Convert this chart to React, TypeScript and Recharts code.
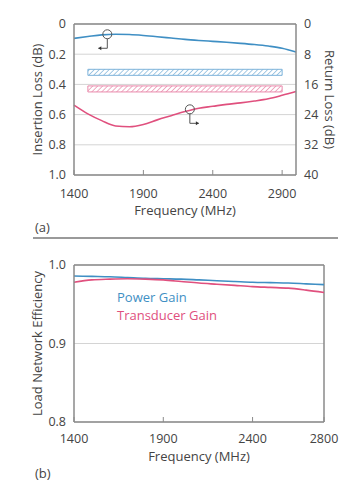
import React from "react";
import {
  LineChart,
  Line,
  XAxis,
  YAxis,
  CartesianGrid,
  ReferenceArea,
  ReferenceLine,
  ReferenceDot,
} from "recharts";

// ---- chart (a) data ----
const freqA = [1400, 1500, 1600, 1700, 1800, 1900, 2000, 2100, 2200, 2300, 2400, 2500, 2600, 2700, 2800, 2900, 3000];
const insertionLoss = [0.095, 0.083, 0.072, 0.068, 0.07, 0.076, 0.084, 0.093, 0.102, 0.109, 0.115, 0.121, 0.128, 0.136, 0.146, 0.16, 0.186];
const returnLoss = [21.5, 23.8, 25.6, 27.0, 27.2, 26.6, 25.4, 24.3, 23.2, 22.3, 21.8, 21.3, 20.9, 20.4, 19.8, 18.9, 17.9];
const ticksA = [1400, 1900, 2400, 2900];
const ilTicks = [0, 0.2, 0.4, 0.6, 0.8, 1.0];
const rlTicks = [0, 8, 16, 24, 32, 40];
const bandFreq = [1500, 2900];
const bandBlue = [0.3, 0.34];
const bandRed = [0.41, 0.45];

// ---- chart (b) data ----
const freqB = [1400, 1500, 1600, 1700, 1800, 1900, 2000, 2100, 2200, 2300, 2400, 2500, 2600, 2700, 2800];
const powerGain = [0.986, 0.9855, 0.985, 0.984, 0.983, 0.9825, 0.982, 0.981, 0.98, 0.979, 0.978, 0.9775, 0.977, 0.976, 0.975];
const transducerGain = [0.978, 0.981, 0.982, 0.9825, 0.982, 0.981, 0.979, 0.977, 0.9755, 0.974, 0.9725, 0.9715, 0.9705, 0.968, 0.965];
const ticksB = [1400, 1900, 2400, 2800];
const effTicks = [0.8, 0.9, 1.0];

const BLUE = "#3f8fc4";
const RED = "#e0507e";
const AXIS = "#8a8a8a";
const TEXT = "#444";
const FONT = "'Open Sans', sans-serif";

const dataA = freqA.map((f, i) => ({ freq: f, il: insertionLoss[i], rl: returnLoss[i] }));
const dataB = freqB.map((f, i) => ({ freq: f, pg: powerGain[i], tg: transducerGain[i] }));

const tickStyle = { fill: TEXT, fontSize: 12.5, fontFamily: FONT };
const titleStyle = { fill: TEXT, fontSize: 13, fontFamily: FONT, textAnchor: "middle" as const };

// circle marker with an elbow arrow pointing to its axis
function Marker({ cx, cy, dir }: { cx?: number; cy?: number; dir: "left" | "right" }) {
  if (cx == null || cy == null) return null;
  const r = 4.5;
  const bend = cy + 14;
  const end = dir === "left" ? cx - 9 : cx + 9;
  const head = dir === "left" ? end + 3 : end - 3;
  return (
    <g>
      <circle cx={cx} cy={cy} r={r} fill="none" stroke="#555" strokeWidth={1} />
      <path d={`M${cx},${cy + r} L${cx},${bend} L${end},${bend}`} fill="none" stroke="#555" strokeWidth={1} />
      <path d={`M${end},${bend} L${head},${bend - 2} L${head},${bend + 2} Z`} fill="#333" />
    </g>
  );
}

export default function App() {
  return (
    <div style={{ position: "absolute", left: 0, top: 0, width: 350, height: 491, background: "#fff" }}>
      {/* (a) insertion / return loss */}
      <div style={{ position: "absolute", left: 0, top: 0 }}>
        <LineChart width={350} height={235} data={dataA} margin={{ top: 24, right: 0, bottom: 0, left: 0 }}>
          <defs>
            <pattern id="hatchBlue" width="3.5" height="3.5" patternUnits="userSpaceOnUse" patternTransform="rotate(45)">
              <line x1="0" y1="0" x2="0" y2="3.5" stroke="#7db3da" strokeWidth={1.4} />
            </pattern>
            <pattern id="hatchRed" width="3.5" height="3.5" patternUnits="userSpaceOnUse" patternTransform="rotate(45)">
              <line x1="0" y1="0" x2="0" y2="3.5" stroke="#e98aab" strokeWidth={1.4} />
            </pattern>
          </defs>
          <CartesianGrid yAxisId="il" vertical={false} stroke="#d4d4d4" />
          <XAxis
            type="number"
            dataKey="freq"
            domain={[1400, 3000]}
            ticks={ticksA}
            height={60}
            tick={tickStyle}
            tickSize={-5}
            tickMargin={19}
            tickLine={{ stroke: AXIS }}
            axisLine={{ stroke: AXIS, strokeWidth: 1.5 }}
            label={{ value: "Frequency (MHz)", position: "insideBottom", offset: 20, style: titleStyle }}
          />
          <YAxis
            yAxisId="il"
            domain={[0, 1]}
            reversed
            ticks={ilTicks}
            width={74}
            tick={tickStyle}
            tickLine={false}
            tickFormatter={(v: number) => (v === 0 ? "0" : v.toFixed(1))}
            axisLine={{ stroke: AXIS, strokeWidth: 1.5 }}
            label={{ value: "Insertion Loss (dB)", angle: -90, position: "insideLeft", offset: 37, style: titleStyle }}
          />
          <YAxis
            yAxisId="rl"
            orientation="right"
            domain={[0, 40]}
            reversed
            ticks={rlTicks}
            width={54}
            tick={tickStyle}
            tickLine={false}
            axisLine={{ stroke: AXIS, strokeWidth: 1.5 }}
            label={{ value: "Return Loss (dB)", angle: 90, position: "insideRight", offset: 20, style: titleStyle }}
          />
          <ReferenceLine yAxisId="il" y={0} stroke={AXIS} strokeWidth={1.5} />
          <ReferenceArea
            yAxisId="il"
            x1={bandFreq[0]}
            x2={bandFreq[1]}
            y1={bandBlue[0]}
            y2={bandBlue[1]}
            fill="url(#hatchBlue)"
            fillOpacity={1}
            stroke="#7db3da"
          />
          <ReferenceArea
            yAxisId="il"
            x1={bandFreq[0]}
            x2={bandFreq[1]}
            y1={bandRed[0]}
            y2={bandRed[1]}
            fill="url(#hatchRed)"
            fillOpacity={1}
            stroke="#e98aab"
          />
          <Line yAxisId="il" type="monotone" dataKey="il" stroke={BLUE} strokeWidth={1.6} dot={false} isAnimationActive={false} />
          <Line yAxisId="rl" type="monotone" dataKey="rl" stroke={RED} strokeWidth={1.6} dot={false} isAnimationActive={false} />
          <ReferenceDot yAxisId="il" x={1640} y={0.068} shape={(p: any) => <Marker cx={p.cx} cy={p.cy} dir="left" />} />
          <ReferenceDot yAxisId="rl" x={2235} y={22.6} shape={(p: any) => <Marker cx={p.cx} cy={p.cy} dir="right" />} />
        </LineChart>
      </div>

      <div style={{ position: "absolute", left: 35, top: 218, fontFamily: FONT, fontSize: 13, color: TEXT }}>(a)</div>
      <div style={{ position: "absolute", left: 33, top: 237, width: 305, height: 1.5, background: "#9a9a9a" }} />

      {/* (b) load network efficiency */}
      <div style={{ position: "absolute", left: 0, top: 240 }}>
        <LineChart width={350} height={251} data={dataB} margin={{ top: 25, right: 26, bottom: 0, left: 0 }}>
          <CartesianGrid vertical={false} stroke="#d4d4d4" />
          <XAxis
            type="number"
            dataKey="freq"
            domain={[1400, 2800]}
            ticks={ticksB}
            height={69}
            tick={tickStyle}
            tickSize={-5}
            tickMargin={17}
            tickLine={{ stroke: AXIS }}
            axisLine={{ stroke: AXIS, strokeWidth: 1.5 }}
            label={{ value: "Frequency (MHz)", position: "insideBottom", offset: 30, style: titleStyle }}
          />
          <YAxis
            domain={[0.8, 1.0]}
            ticks={effTicks}
            width={74}
            tick={tickStyle}
            tickLine={false}
            tickFormatter={(v: number) => v.toFixed(1)}
            axisLine={{ stroke: AXIS, strokeWidth: 1.5 }}
            label={{ value: "Load Network Efficiency", angle: -90, position: "insideLeft", offset: 37, style: titleStyle }}
          />
          <ReferenceLine y={1.0} stroke={AXIS} strokeWidth={1.5} />
          <ReferenceLine x={2800} stroke={AXIS} strokeWidth={1.5} />
          <Line type="monotone" dataKey="pg" stroke={BLUE} strokeWidth={1.6} dot={false} isAnimationActive={false} />
          <Line type="monotone" dataKey="tg" stroke={RED} strokeWidth={1.6} dot={false} isAnimationActive={false} />
        </LineChart>
      </div>

      {/* series labels inside plot (b) */}
      <div style={{ position: "absolute", left: 117, top: 288, fontFamily: FONT, fontSize: 13, lineHeight: "18px" }}>
        <div style={{ color: BLUE }}>Power Gain</div>
        <div style={{ color: RED }}>Transducer Gain</div>
      </div>

      <div style={{ position: "absolute", left: 35, top: 464, fontFamily: FONT, fontSize: 13, color: TEXT }}>(b)</div>
    </div>
  );
}
